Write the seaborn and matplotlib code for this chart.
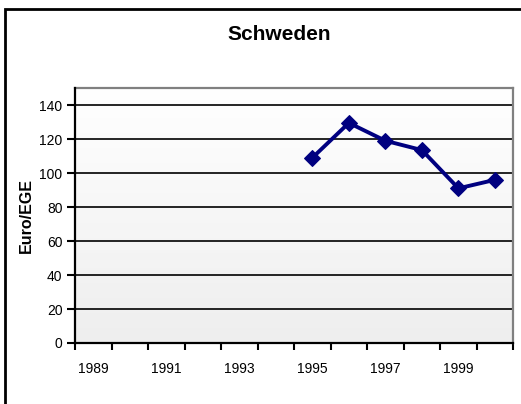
import numpy as np
import pandas as pd
import seaborn as sns
import matplotlib.pyplot as plt
from matplotlib.colors import LinearSegmentedColormap
from matplotlib.patches import Rectangle

years = [1995, 1996, 1997, 1998, 1999, 2000]
values = [109, 129.5, 119, 113.5, 91, 96]
all_years = list(range(1989, 2001))
tick_labels = [str(y) for y in range(1989, 2001, 2)]
yticks = [0, 20, 40, 60, 80, 100, 120, 140]

df = pd.DataFrame({"Jahr": years, "Euro/EGE": values})

sns.set_theme(style="white")
plt.rcParams["font.family"] = ["Liberation Sans", "DejaVu Sans"]
plt.rcParams["text.color"] = "black"
plt.rcParams["axes.labelcolor"] = "black"
plt.rcParams["xtick.color"] = "black"
plt.rcParams["ytick.color"] = "black"

fig = plt.figure(figsize=(5.21, 4.04), dpi=100)
ax = fig.add_axes([0.144, 0.151, 0.841, 0.631])

# plot area gradient, light at top, grey at bottom
grad = np.linspace(0, 1, 256).reshape(-1, 1)
cmap = LinearSegmentedColormap.from_list("bg", ["#ffffff", "#eeeeee"])
x0, x1 = all_years[0] - 0.5, all_years[-1] + 0.5
ax.imshow(grad, extent=[x0, x1, 0, 150], aspect="auto", cmap=cmap,
          origin="upper", zorder=0)

for y in yticks[1:]:
    ax.axhline(y, color="black", lw=1.2, zorder=1)

sns.lineplot(data=df, x="Jahr", y="Euro/EGE", ax=ax, color="#000080",
             lw=2.8, marker="D", markersize=8, markeredgecolor="#000080",
             zorder=3)

ax.set_xlim(x0, x1)
ax.set_ylim(0, 150)
ax.set_yticks(yticks)
ax.set_yticklabels([str(v) for v in yticks], fontsize=10)
ax.set_xticks(np.arange(x0, x1 + 0.01, 1.0), minor=True)
ax.set_xticks(range(1989, 2001, 2))
ax.set_xticklabels(tick_labels, fontsize=10)
ax.tick_params(axis="x", which="major", length=0, pad=14)
ax.tick_params(axis="x", which="minor", length=5, width=1.5, color="black",
               direction="out", bottom=True)
ax.tick_params(axis="y", length=6, width=1.5, color="black", direction="out",
               left=True, pad=3)
ax.set_xlabel("")
ax.set_ylabel("Euro/EGE", fontsize=11.5, fontweight="bold", labelpad=4)

for side in ["left", "bottom"]:
    ax.spines[side].set_color("black")
    ax.spines[side].set_linewidth(1.6)
for side in ["top", "right"]:
    ax.spines[side].set_color("#808080")
    ax.spines[side].set_linewidth(1.6)
ax.spines["left"].set_zorder(4)
ax.spines["bottom"].set_zorder(4)

fig.text(0.535, 0.915, "Schweden", ha="center", va="center",
         fontsize=15, fontweight="bold")

# outer chart frame, running off the right and bottom edge
fig.patches.append(Rectangle((5 / 521, -0.1), 1.2, 1.1 - 9 / 404,
                             transform=fig.transFigure, fill=False,
                             edgecolor="black", lw=2))

fig.savefig("out.png", dpi=100)
